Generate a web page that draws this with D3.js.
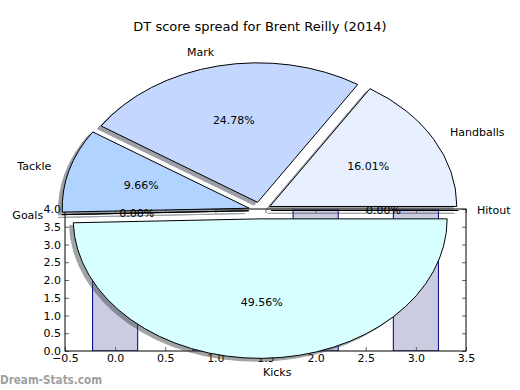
<!DOCTYPE html>
<html><head><meta charset="utf-8">
<script src="https://cdn.jsdelivr.net/npm/d3@7"></script>
<style>body{margin:0;background:#fff;} text{font-family:"DejaVu Sans",sans-serif;}</style>
</head><body><svg id="c" width="520" height="390"></svg>
<script>
// ---- data ----
const sliceLabels = ["Handballs", "Mark", "Tackle", "Goals", "Kicks", "Hitout"];
const sliceValues = [16.01, 24.78, 9.66, 0.00, 49.56, 0.00];
const sliceColors = ["#e8f0ff", "#c4d8ff", "#b0d4ff", "#c8e0ff", "#d8ffff", "#e0e8ff"];
const barPositions = [0, 1, 2, 3];
const barHeights = [3, 3, 4, 4];
const xTickValues = [-0.5, 0, 0.5, 1, 1.5, 2, 2.5, 3, 3.5];
const yTickValues = [0, 0.5, 1, 1.5, 2, 2.5, 3, 3.5, 4];
const chartTitle = "DT score spread for Brent Reilly (2014)";
const watermark = "Dream-Stats.com";

const svg = d3.select("#c");
svg.append("rect").attr("width", 520).attr("height", 390).attr("fill", "#fff");

// ---- bar axes ----
const ax = {left: 65, right: 466, top: 209, bottom: 351};
const x = d3.scaleLinear().domain([-0.5, 3.5]).range([ax.left, ax.right]);
const y = d3.scaleLinear().domain([0, 4]).range([ax.bottom, ax.top]);
const barW = 0.45;

svg.append("clipPath").attr("id", "axclip").append("rect")
  .attr("x", ax.left).attr("y", ax.top).attr("width", ax.right - ax.left).attr("height", ax.bottom - ax.top);

svg.append("g").attr("clip-path", "url(#axclip)")
  .selectAll("rect").data(barPositions).join("rect")
  .attr("x", (p) => x(p - barW / 2))
  .attr("width", (p) => x(p + barW / 2) - x(p - barW / 2))
  .attr("y", (p, i) => y(barHeights[i]))
  .attr("height", (p, i) => y(0) - y(barHeights[i]))
  .attr("fill", "#cbcbe2").attr("stroke", "#000080").attr("stroke-width", 1);

const fmt = d3.format(".1f");
function styleAxis(g, labels) {
  g.select(".domain").remove();
  g.selectAll(".tick line").attr("stroke", "#666");
  g.selectAll(".tick text").attr("fill", "#000").style("font-size", "11px").style("font-family", "DejaVu Sans");
  if (!labels) g.selectAll(".tick text").remove();
}
svg.append("g").attr("transform", `translate(0,${ax.bottom})`)
  .call(d3.axisBottom(x).tickValues(xTickValues).tickFormat(fmt).tickSizeInner(-4).tickSizeOuter(0).tickPadding(3))
  .call(g => styleAxis(g, true));
svg.append("g").attr("transform", `translate(0,${ax.top})`)
  .call(d3.axisTop(x).tickValues(xTickValues).tickSizeInner(-4).tickSizeOuter(0))
  .call(g => styleAxis(g, false));
svg.append("g").attr("transform", `translate(${ax.left},0)`)
  .call(d3.axisLeft(y).tickValues(yTickValues).tickFormat(fmt).tickSizeInner(-4).tickSizeOuter(0).tickPadding(4))
  .call(g => styleAxis(g, true));
svg.append("g").attr("transform", `translate(${ax.right},0)`)
  .call(d3.axisRight(y).tickValues(yTickValues).tickSizeInner(-4).tickSizeOuter(0))
  .call(g => styleAxis(g, false));
svg.append("rect").attr("x", ax.left).attr("y", ax.top)
  .attr("width", ax.right - ax.left).attr("height", ax.bottom - ax.top)
  .attr("fill", "none").attr("stroke", "#000").attr("stroke-width", 1);

// ---- pie ----
const pc = {cx: 260, cy: 210.5, rx: 187, ry: 139.5};
const explode = 0.06, shadowOff = 0.02, R = 100;
const arcs = d3.pie().sort(null).startAngle(Math.PI / 2).endAngle(Math.PI / 2 - 2 * Math.PI)(sliceValues);
const arcGen = d3.arc().innerRadius(0).outerRadius(R);
arcs.forEach((d, i) => {
  const m = (d.startAngle + d.endAngle) / 2;
  d.ux = Math.sin(m); d.uy = -Math.cos(m);
  d.ox = pc.cx + explode * pc.rx * d.ux;
  d.oy = pc.cy + explode * pc.ry * d.uy;
  d.i = i;
});
function shade(c) { const k = d3.rgb(c); return d3.rgb(k.r * 0.3, k.g * 0.3, k.b * 0.3).toString(); }

const pieG = svg.append("g");
pieG.selectAll("path.sh").data(arcs).join("path").attr("class", "sh")
  .attr("d", arcGen)
  .attr("transform", d => `translate(${d.ox - shadowOff * pc.rx},${d.oy + shadowOff * pc.ry}) scale(${pc.rx / R},${pc.ry / R})`)
  .attr("fill", d => shade(sliceColors[d.i])).attr("stroke", d => shade(sliceColors[d.i]))
  .attr("vector-effect", "non-scaling-stroke").attr("stroke-width", 1).attr("opacity", 0.5);
pieG.selectAll("path.w").data(arcs).join("path").attr("class", "w")
  .attr("d", arcGen)
  .attr("transform", d => `translate(${d.ox},${d.oy}) scale(${pc.rx / R},${pc.ry / R})`)
  .attr("fill", d => sliceColors[d.i]).attr("stroke", "#000")
  .attr("vector-effect", "non-scaling-stroke").attr("stroke-width", 1);

pieG.selectAll("text.lab").data(arcs).join("text").attr("class", "lab")
  .attr("x", d => d.ox + 1.1 * pc.rx * d.ux)
  .attr("y", d => d.oy + 1.1 * pc.ry * d.uy)
  .attr("dy", "0.35em")
  .attr("text-anchor", d => d.ux > 0 ? "start" : "end")
  .style("font-size", "11px").attr("fill", "#000")
  .text(d => sliceLabels[d.i]);
pieG.selectAll("text.pct").data(arcs).join("text").attr("class", "pct")
  .attr("x", d => d.ox + 0.6 * pc.rx * d.ux)
  .attr("y", d => d.oy + 0.6 * pc.ry * d.uy)
  .attr("dy", "0.35em")
  .attr("text-anchor", "middle")
  .style("font-size", "11px").attr("fill", "#000")
  .text(d => sliceValues[d.i].toFixed(2) + "%");

// ---- title & watermark ----
svg.append("text").attr("x", 260).attr("y", 26).attr("dy", "0.35em").attr("text-anchor", "middle")
  .style("font-size", "13px").attr("fill", "#000").text(chartTitle);
svg.append("text").attr("x", 0).attr("y", 384)
  .style("font-size", "12px").style("font-weight", "bold").attr("fill", "#a0a0a0")
  .attr("textLength", 102).attr("lengthAdjust", "spacingAndGlyphs")
  .text(watermark);
</script></body></html>
